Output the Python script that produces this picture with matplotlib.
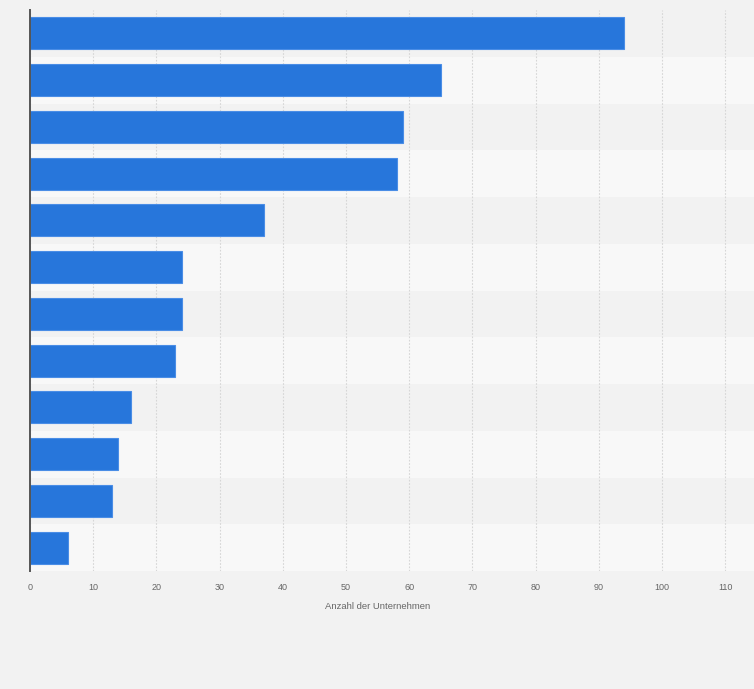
import matplotlib.pyplot as plt
import numpy as np

# Werte von oben nach unten (Kategorienamen im Bild nicht sichtbar)
categories = [f"Kategorie {i + 1}" for i in range(12)]
values = [94, 65, 59, 58, 37, 24, 24, 23, 16, 14, 13, 6]
x_ticks = [0, 10, 20, 30, 40, 50, 60, 70, 80, 90, 100, 110]
x_label = "Anzahl der Unternehmen"

plt.rcParams["font.family"] = ["Liberation Sans", "DejaVu Sans"]

fig = plt.figure(figsize=(7.54, 6.89), dpi=100, facecolor="#f2f2f2")
ax = fig.add_axes([30 / 754, 1 - 571 / 689, 1 - 30 / 754, (571 - 10) / 689])
ax.set_facecolor("#f2f2f2")

n = len(values)
y = np.arange(n)
x_max = (754 - 30) / 6.32

# abwechselnde Zeilenbänder
for i in range(n):
    color = "#f2f2f2" if i % 2 == 0 else "#f8f8f8"
    ax.axhspan(i - 0.5, i + 0.5, color=color, zorder=0, lw=0)

ax.barh(y, values, height=0.68, color="#2776db", edgecolor="#4a8de6",
        linewidth=0.8, zorder=3)

ax.set_ylim(n - 0.5, -0.5)
ax.set_xlim(0, x_max)
ax.set_xticks(x_ticks)
ax.set_xticklabels([str(t) for t in x_ticks], fontsize=6.5, color="#666666")
ax.set_yticks([])
ax.tick_params(axis="x", length=0, pad=9)
ax.set_xlabel(x_label, fontsize=6.8, color="#666666", labelpad=7)
ax.xaxis.set_label_coords(55 / x_max, -0.055)

ax.grid(axis="x", color="#d6d6d6", linestyle=(0, (1.5, 1.5)), linewidth=0.8, zorder=1)
ax.set_axisbelow(True)

for side in ["top", "right", "bottom"]:
    ax.spines[side].set_visible(False)
ax.spines["left"].set_color("#555555")
ax.spines["left"].set_linewidth(1.4)
ax.spines["left"].set_zorder(4)

fig.savefig("out.png", dpi=100, facecolor=fig.get_facecolor())
